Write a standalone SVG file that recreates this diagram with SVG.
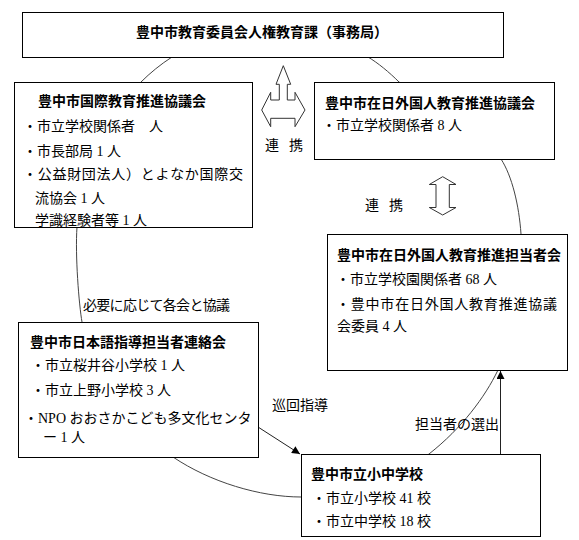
<svg xmlns="http://www.w3.org/2000/svg" width="579" height="540" viewBox="0 0 579 540">
<defs>
<style>
.box{fill:#fff;stroke:#000;stroke-width:1}
.ring{fill:none;stroke:#444;stroke-width:1}
.ln{fill:none;stroke:#222;stroke-width:1}
.blk{fill:#fff;stroke:#333;stroke-width:1;stroke-linejoin:miter}
.t{font-family:"Noto Sans CJK JP",sans-serif;font-weight:bold;font-size:14px;fill:#000}
.b{font-family:"Liberation Serif","Noto Sans CJK JP",serif;font-size:14px;fill:#000}
</style>
<marker id="ah" viewBox="0 0 10 10" refX="10" refY="5" markerUnits="userSpaceOnUse" markerWidth="9" markerHeight="8" orient="auto">
<path d="M0,0 L10,5 L0,10 Z" fill="#000"/>
</marker>
</defs>
<rect width="579" height="540" fill="#fff"/>
<g id="connectors">
<path class="ring" d="M141,82 C150,73 161,64 172,57 C200,40 240,28 270,28 C300,28 340,40 368,57 C378,63 389,72 399,82 C440,110 480,128 501,159 C512,176 519,205 521,234 C523,270 522,320 498,370 C485,397 462,428 429,454 C395,478 350,497 301,497 C260,497 210,482 173,457 C135,431 95,380 82,322 C79,305 75,255 77,227 C79,180 105,120 141,82 Z"/>
<line class="ln" x1="258" y1="427" x2="300" y2="454" marker-end="url(#ah)"/>
<line class="ln" x1="500.5" y1="454" x2="500.5" y2="371" marker-end="url(#ah)"/>
<path class="blk" d="M283.3,65.7 L290.7,84.3 L287.3,84.3 L287.3,100 L295,100 L295,92.3 L305,110 L295,126.7 L295,118.3 L270.7,118.3 L270.7,126.7 L261.7,110 L270.7,92.3 L270.7,100 L279.3,100 L279.3,84.3 L276,84.3 Z"/>
<path class="blk" d="M442.7,176.7 L456,184.5 L449.3,184.5 L449.3,207.5 L456,207.5 L442.7,215 L429.3,207.5 L436,207.5 L436,184.5 L429.3,184.5 Z"/>
<text class="b" x="265" y="150" textLength="38" lengthAdjust="spacing">連　携</text>
<text class="b" x="365" y="210" textLength="38" lengthAdjust="spacing">連　携</text>
<text class="b" x="83" y="310" textLength="147" lengthAdjust="spacing">必要に応じて各会と協議</text>
<text class="b" x="272" y="410">巡回指導</text>
<text class="b" x="415" y="429">担当者の選出</text>
</g>
<g id="node-top">
<rect class="box" x="22.5" y="12.5" width="481" height="45"/>
<text class="t" x="262" y="36.5" text-anchor="middle" font-size="13">豊中市教育委員会人権教育課（事務局）</text>
</g>
<g id="node-kokusai">
<rect class="box" x="14.5" y="82.5" width="238" height="145"/>
<text class="t" x="38" y="106">豊中市国際教育推進協議会</text>
<text class="b" x="23" y="131">・市立学校関係者　人</text>
<text class="b" x="23" y="155.5">・市長部局 1 人</text>
<text class="b" x="23" y="179" textLength="220" lengthAdjust="spacing">・公益財団法人）とよなか国際交</text>
<text class="b" x="35" y="203">流協会 1 人</text>
<text class="b" x="35" y="225">学識経験者等 1 人</text>
</g>
<g id="node-zainichi-kyogikai">
<rect class="box" x="314.5" y="82.5" width="240" height="77"/>
<text class="t" x="325" y="108">豊中市在日外国人教育推進協議会</text>
<text class="b" x="322" y="130">・市立学校関係者 8 人</text>
</g>
<g id="node-zainichi-tantosha">
<rect class="box" x="327.5" y="234.5" width="240" height="136"/>
<text class="t" x="337" y="260" font-size="12.8">豊中市在日外国人教育推進担当者会</text>
<text class="b" x="336" y="284">・市立学校園関係者 68 人</text>
<text class="b" x="336" y="308.5" textLength="221" lengthAdjust="spacing">・豊中市在日外国人教育推進協議</text>
<text class="b" x="337" y="331">会委員 4 人</text>
</g>
<g id="node-nihongo">
<rect class="box" x="18.5" y="322.5" width="240" height="135"/>
<text class="t" x="30" y="347">豊中市日本語指導担当者連絡会</text>
<text class="b" x="31" y="370">・市立桜井谷小学校 1 人</text>
<text class="b" x="31" y="395">・市立上野小学校 3 人</text>
<text class="b" x="24" y="423">・NPO おおさかこども多文化センタ</text>
<text class="b" x="43" y="442">ー 1 人</text>
</g>
<g id="node-schools">
<rect class="box" x="301.5" y="454.5" width="239" height="82"/>
<text class="t" x="311" y="479">豊中市立小中学校</text>
<text class="b" x="312" y="502.5">・市立小学校 41 校</text>
<text class="b" x="312" y="526">・市立中学校 18 校</text>
</g>
</svg>
